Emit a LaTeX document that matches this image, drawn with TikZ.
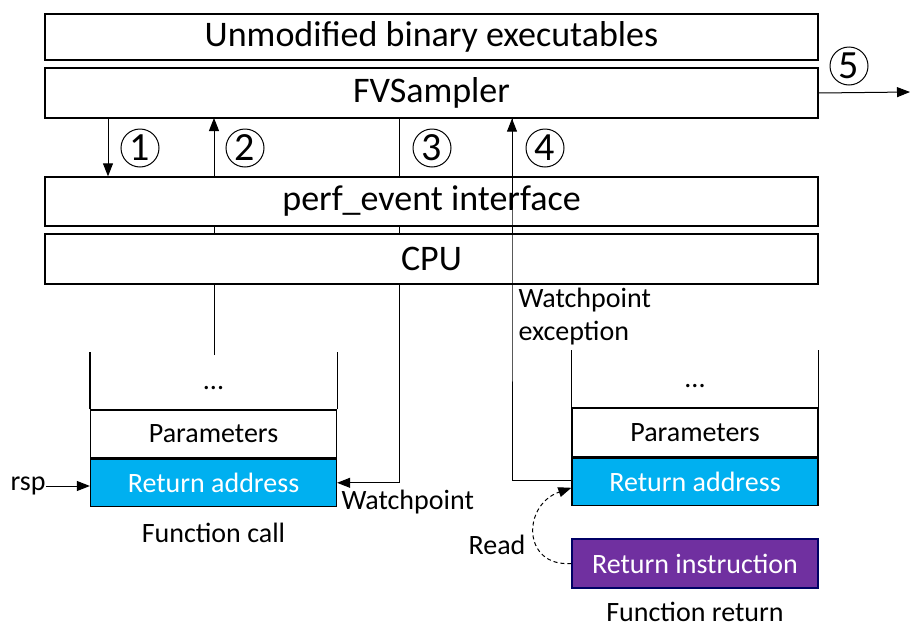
\documentclass[tikz,border=0pt]{standalone}
\usepackage{fontspec}
\setmainfont{Carlito}
\usetikzlibrary{arrows.meta,positioning}
\tikzset{%
  arr/.style = {-{Triangle[width=10pt,length=13pt]}},
  % Specifications for style of nodes:
            layer/.style = {rectangle, draw=black, line width=1.3pt, fill=white,
                           minimum width=773pt, inner sep=0pt,
                           font=\fontsize{36}{40}\selectfont},
        slot/.style = {rectangle, draw=black, line width=1.3pt, fill=white,
                           minimum width=246pt, inner sep=0pt,
                           font=\fontsize{28}{32}\selectfont},
       retaddr/.style = {slot, fill=retblue, text=white},
       retinst/.style = {slot, draw=blue!40!black, fill=retpurple, text=white},
       lbl/.style = {font=\fontsize{28}{33}\selectfont, inner sep=0pt},
       num/.style = {circle, draw, line width=1pt, minimum size=38pt, inner sep=0pt,
                           font=\fontsize{40}{40}\selectfont},
}
\definecolor{retblue}{RGB}{0,176,240}
\definecolor{retpurple}{RGB}{112,48,160}

\begin{document}
\begin{tikzpicture}[x=1pt, y=-1pt, line width=1pt]
  \useasboundingbox (0,0) rectangle (911,627);
  % Free ends
  \coordinate (lfree) at (214,355);
  \coordinate (out) at (910,92);
  % Lines running behind the layers
  \draw[arr] (lfree) -- (214,118);
  \draw (399,118) -- (399,284);
  \draw (512,118) -- (512,284);
  % Specification of nodes (position, etc.)
  \node (bin)  [layer, minimum height=46pt] at (431.5,37)  {Unmodified binary executables};
  \node (fv)   [layer, minimum height=50pt] at (431.5,93)  {FVSampler};
  \node (perf) [layer, minimum height=49pt] at (431.5,201.5) {perf\_event interface};
  \node (cpu)  [layer, minimum height=50pt] at (431.5,259) {CPU};
  % left stack (function call)
  \node (parL) [slot, minimum height=48pt] at (213.5,434) {Parameters};
  \node (retL) [retaddr, minimum height=47pt, below=0pt of parL] {Return address};
  \node (dotL) [lbl] at (213.5,388) {...};
  \draw[line width=1.3pt] (parL.north west) -- ++(0,-57);
  \draw[line width=1.3pt] (parL.north east) -- ++(0,-57);
  \node (callL) [lbl] at (213.5,533) {Function call};
  \node (rsp) [lbl] at (28,486) {rsp};
  % right stack (function return)
  \node (parR) [slot, minimum height=49pt] at (695,432.5) {Parameters};
  \node (retR) [retaddr, minimum height=47pt, below=0pt of parR] {Return address};
  \node (dotR) [lbl] at (695,386) {...};
  \draw[line width=1.3pt] (parR.north west) -- ++(0,-57);
  \draw[line width=1.3pt] (parR.north east) -- ++(0,-57);
  \node (inst) [retinst, minimum height=49pt] at (695,563.5) {Return instruction};
  \node (retF) [lbl] at (695,612) {Function return};
  % labels
  \node (wp)   [lbl, anchor=west] at (341,502) {Watchpoint};
  \node (wpx)  [lbl, anchor=north west, align=left] at (518,288) {Watchpoint\\exception};
  \node (rd)   [lbl] at (497,545) {Read};
  \node (n1) [num] at (140,148) {1};
  \node (n2) [num] at (245,148) {2};
  \node (n3) [num] at (432,148) {3};
  \node (n4) [num] at (545,148) {4};
  \node (n5) [num] at (849,66)  {5};
  % Specification of lines between nodes specified above
  \draw[arr] ([xshift=-323.5pt]fv.south) -- ([xshift=-323.5pt]perf.north);
  \draw[arr] ([xshift=-32.5pt]cpu.south) |- (retL.east);
  \draw[arr] ([yshift=1pt]retR.west) -| ([xshift=80.5pt]cpu.south) -- ([xshift=80.5pt]fv.south);
  \draw[arr] (rsp) -- (rsp -| retL.west);
  \draw[arr] (fv.east) -- (out);
  \draw[arr, dash pattern=on 4pt off 3pt] (inst.west) .. controls (522,567) and (522,505) .. ([yshift=-6pt]retR.west);
\end{tikzpicture}
\end{document}
